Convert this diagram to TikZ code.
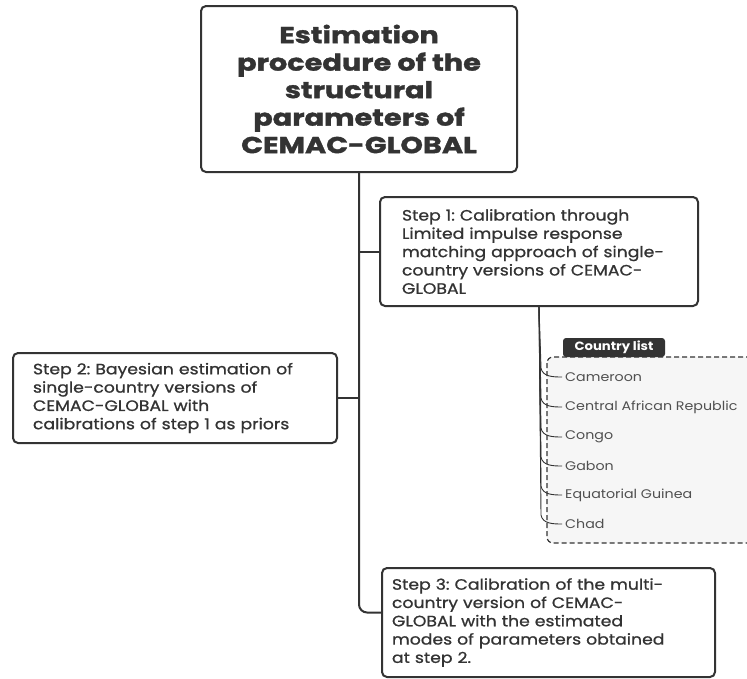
\documentclass[tikz,border=0pt]{standalone}
\usepackage{fontspec}
\setmainfont{Poppins}
\newfontfamily\titlefont[FakeStretch=1.25,FakeBold=1.5]{Poppins}
\newfontfamily\stepfont[FakeStretch=1.15,FakeBold=0.9]{Poppins}
\newfontfamily\itemfont[FakeStretch=1.14]{Poppins}
\newfontfamily\tabfont[FakeStretch=1.1]{Poppins}
\frenchspacing
\definecolor{ink}{HTML}{333333}
\definecolor{itemc}{HTML}{505050}
\definecolor{listbg}{HTML}{F6F6F6}
\begin{document}
\begin{tikzpicture}[x=1pt,y=-1pt,
  boxstyle/.style={draw=ink, line width=2pt, rounded corners=5pt, fill=white, text=ink, inner sep=0pt},
  conn/.style={draw=ink, line width=2pt},
  branch/.style={draw=ink, line width=0.9pt},
  item/.style={anchor=west, text=itemc, inner sep=0pt, font=\itemfont\fontsize{12.5}{14}\selectfont}]
\useasboundingbox (0,0) rectangle (747,678);

% title
\node[boxstyle, minimum width=316pt, minimum height=166pt, align=center,
  font=\titlefont\bfseries\fontsize{23}{27.5}\selectfont] (title) at (359,89)
  {Estimation\\procedure of the\\structural\\parameters of\\CEMAC-GLOBAL};

% step 1
\node[boxstyle, minimum width=318pt, minimum height=109pt, text width=274pt, align=left,
  font=\stepfont\fontsize{15}{18.3}\selectfont] (s1) at (539,251.5)
  {Step 1: Calibration through\\Limited impulse response\\matching approach of single-\\country versions of CEMAC-\\GLOBAL};

% step 2
\node[boxstyle, minimum width=324pt, minimum height=90pt, text width=284pt, align=left,
  font=\stepfont\fontsize{15}{18.3}\selectfont] (s2) at (175,398)
  {Step 2: Bayesian estimation of\\single-country versions of\\CEMAC-GLOBAL with\\calibrations of step 1 as priors};

% step 3
\node[boxstyle, minimum width=333pt, minimum height=109pt, text width=313pt, align=left,
  font=\stepfont\fontsize{15}{18.3}\selectfont] (s3) at (548.5,622.5)
  {Step 3: Calibration of the multi-\\country version of CEMAC-\\GLOBAL with the estimated\\modes of parameters obtained\\at step 2.};

% trunk
\coordinate (tb) at (title.south);
\draw[conn, rounded corners=8pt] (title.south) |- ([yshift=10pt]s3.west);
\draw[conn] (tb |- s1.west) -- (s1.west);
\draw[conn] (s2.east) -- (tb |- s2.east);

% country list
\draw[draw=ink, line width=1.2pt, dash pattern=on 5pt off 3pt, fill=listbg, rounded corners=6pt]
  (547,357) rectangle (770,543);
\node[fill=ink, rounded corners=3pt, text=white, minimum width=102pt, minimum height=19pt, inner sep=0pt,
  font=\tabfont\bfseries\fontsize{12}{14}\selectfont] (tab) at (614,347.5) {Country list};

\node[item] (c1) at (565,377) {Cameroon};
\node[item] (c2) at (565,407) {Central African Republic};
\node[item] (c3) at (565,437) {Congo};
\node[item] (c4) at (565,466) {Gabon};
\node[item] (c5) at (565,495) {Equatorial Guinea};
\node[item] (c6) at (565,524) {Chad};

\foreach \c/\y in {c1/377,c2/407,c3/437,c4/466,c5/495,c6/524}{
  \draw[branch] (s1.south) -- (541,\y-9) to[out=-80,in=180] ([xshift=-3pt]\c.west);
}
\end{tikzpicture}
\end{document}
